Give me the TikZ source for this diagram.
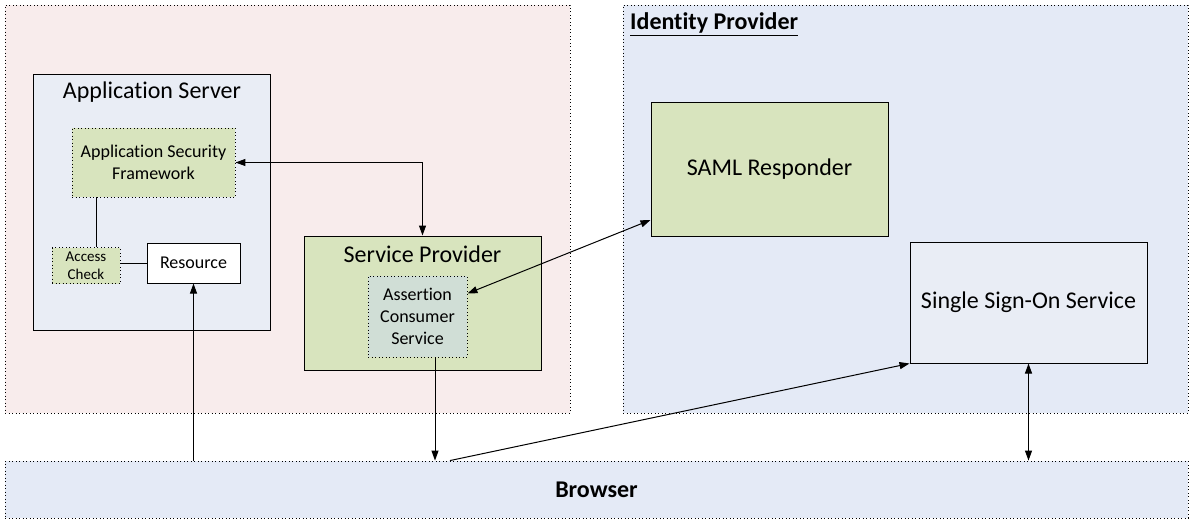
\documentclass[tikz,border=0pt]{standalone}
\usepackage{fontspec}
\setmainfont[Ligatures=NoCommon]{Carlito}
\usetikzlibrary{arrows.meta}
\definecolor{pinkbg}{RGB}{248,236,236}
\definecolor{bluebg}{RGB}{228,234,246}
\definecolor{srvbg}{RGB}{233,237,245}
\definecolor{greenbg}{RGB}{216,228,190}
\definecolor{acsbg}{RGB}{208,222,214}
\tikzset{
  box/.style={draw=black, line width=1pt, inner sep=0pt, rectangle},
  dotbox/.style={draw=black, line width=0.9pt, dash pattern=on 0.9pt off 2.6pt, inner sep=0pt, rectangle},
  conn/.style={line width=1pt, draw=black},
  tip/.style={-{Triangle[length=10pt,width=7pt]}},
  biptip/.style={{Triangle[length=10pt,width=7pt]}-{Triangle[length=10pt,width=7pt]}},
  big/.style={font=\fontsize{24}{28}\selectfont},
  mid/.style={font=\fontsize{18}{22}\selectfont, align=center},
  small/.style={font=\fontsize{15}{18}\selectfont, align=center},
}
\begin{document}
\begin{tikzpicture}[x=1pt,y=-1pt]
\useasboundingbox (0,0) rectangle (1196,523);
% regions
\node[dotbox, fill=pinkbg, minimum width=565pt, minimum height=408pt] (sp-region) at (287.5,209) {};
\node[dotbox, fill=bluebg, minimum width=565pt, minimum height=408pt] (idp) at (905.5,209) {};
\node[dotbox, fill=bluebg, minimum width=1183pt, minimum height=57pt, font=\fontsize{24}{28}\selectfont\bfseries] (browser) at (596.5,489.5) {Browser};
\node[anchor=west, inner sep=0pt, font=\fontsize{24}{28}\selectfont\bfseries] (idptitle) at (630,24) {\underline{Identity Provider}};
% application server
\node[box, fill=srvbg, minimum width=237pt, minimum height=256pt] (appsrv) at (151.5,202) {};
\node[big] (appsrvtitle) at (152,92) {Application Server};
\node[dotbox, fill=greenbg, minimum width=163pt, minimum height=69pt, mid] (asf) at (153.5,162.5) {Application Security\\Framework};
\node[dotbox, fill=greenbg, minimum width=68pt, minimum height=36pt, small] (access) at (86,265.5) {Access\\Check};
\node[box, fill=white, minimum width=93pt, minimum height=40pt, mid] (resource) at (193.5,263) {Resource};
% service provider
\node[box, fill=greenbg, minimum width=237pt, minimum height=134pt] (sp) at (422.5,303) {};
\node[big] (sptitle) at (422.5,254) {Service Provider};
\node[dotbox, fill=acsbg, minimum width=99pt, minimum height=81pt, mid] (acs) at (417.5,316.5) {Assertion\\Consumer\\Service};
% identity provider boxes
\node[box, fill=greenbg, minimum width=237pt, minimum height=134pt, big] (saml) at (769.5,169) {SAML Responder};
\node[box, fill=srvbg, minimum width=237pt, minimum height=121pt, big] (sso) at (1028.5,302.5) {Single Sign-On Service};
% connectors
\coordinate (acN) at ([xshift=10pt]access.north);
\draw[conn] (acN) -- (acN |- asf.south);
\draw[conn] (access.east |- resource.west) -- (resource.west);
\draw[conn, biptip] (asf.east) -| (sp.north);
\draw[conn, biptip] ([yshift=23pt]acs.east) -- ([yshift=-51pt]saml.west);
\coordinate (acsS) at ([xshift=17.5pt]acs.south);
\draw[conn, tip] (acsS) -- (acsS |- browser.north);
\draw[conn, tip] (resource.south |- browser.north) -- (resource.south);
\coordinate (brA) at ([xshift=-146.5pt]browser.north);
\draw[conn, tip] (brA) -- (sso.south west);
\draw[conn, biptip] (sso.south) -- (sso.south |- browser.north);
\end{tikzpicture}
\end{document}
